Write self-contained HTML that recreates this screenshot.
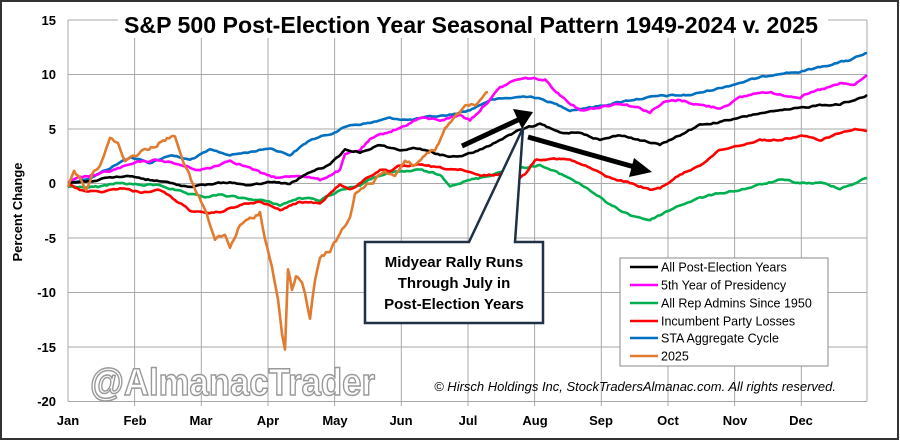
<!DOCTYPE html>
<html><head><meta charset="utf-8"><style>
html,body{margin:0;padding:0;background:#fff}
svg{display:block}
text{font-family:"Liberation Sans",sans-serif}
</style></head><body>
<svg id="s" width="900" height="441" viewBox="0 0 900 441" xmlns="http://www.w3.org/2000/svg">
<rect x="0" y="0" width="900" height="441" fill="#fff"/>
<rect x="1" y="1" width="897" height="438" fill="none" stroke="#333" stroke-width="2"/>
<g stroke="#a8a8a8" stroke-width="1" fill="none">
<line x1="68" y1="20" x2="867" y2="20"/>
<line x1="68" y1="74.5" x2="867" y2="74.5"/>
<line x1="68" y1="129" x2="867" y2="129"/>
<line x1="68" y1="183.5" x2="867" y2="183.5"/>
<line x1="68" y1="238" x2="867" y2="238"/>
<line x1="68" y1="292.5" x2="867" y2="292.5"/>
<line x1="68" y1="347" x2="867" y2="347"/>
<line x1="68" y1="401.5" x2="867" y2="401.5"/>
<line x1="68" y1="20" x2="68" y2="401.5"/>
<line x1="134.6" y1="20" x2="134.6" y2="406"/>
<line x1="201.3" y1="20" x2="201.3" y2="406"/>
<line x1="268" y1="20" x2="268" y2="406"/>
<line x1="334.6" y1="20" x2="334.6" y2="406"/>
<line x1="401.3" y1="20" x2="401.3" y2="406"/>
<line x1="468" y1="20" x2="468" y2="406"/>
<line x1="534.6" y1="20" x2="534.6" y2="406"/>
<line x1="601.3" y1="20" x2="601.3" y2="406"/>
<line x1="668" y1="20" x2="668" y2="406"/>
<line x1="734.6" y1="20" x2="734.6" y2="406"/>
<line x1="801.3" y1="20" x2="801.3" y2="406"/>
<line x1="867" y1="20" x2="867" y2="401.5"/>
</g>
<rect x="118" y="6" width="710" height="32" fill="#fff"/>
<text x="471" y="33" text-anchor="middle" font-size="23" font-weight="bold" fill="#000" textLength="694" lengthAdjust="spacingAndGlyphs">S&amp;P 500 Post-Election Year Seasonal Pattern 1949-2024 v. 2025</text>
<g font-size="13" font-weight="bold" fill="#000" text-anchor="end">
<text x="56" y="25">15</text><text x="56" y="79">10</text><text x="56" y="134">5</text><text x="56" y="188">0</text><text x="56" y="243">-5</text><text x="56" y="297">-10</text><text x="56" y="352">-15</text><text x="56" y="406">-20</text>
</g>
<g font-size="13" font-weight="bold" fill="#000" text-anchor="middle">
<text x="68" y="425">Jan</text><text x="135" y="425">Feb</text><text x="201" y="425">Mar</text><text x="268" y="425">Apr</text><text x="335" y="425">May</text><text x="401" y="425">Jun</text><text x="468" y="425">Jul</text><text x="535" y="425">Aug</text><text x="601" y="425">Sep</text><text x="668" y="425">Oct</text><text x="735" y="425">Nov</text><text x="801" y="425">Dec</text>
</g>
<text transform="translate(22,212) rotate(-90)" text-anchor="middle" font-size="13" font-weight="bold">Percent Change</text>
<text x="90" y="395" font-size="38" font-weight="bold" fill="#fff" stroke="#999" stroke-width="1.5" textLength="285" lengthAdjust="spacingAndGlyphs" style="font-family:'Liberation Sans Narrow','Liberation Sans',sans-serif">@AlmanacTrader</text>
<text x="836" y="391" text-anchor="end" font-size="13" font-style="italic">© Hirsch Holdings Inc, StockTradersAlmanac.com. All rights reserved.</text>
<g fill="none" stroke-width="2.6" stroke-linejoin="round">
<polyline class="j" data-a="1.3" stroke="#0070c0" points="68,183 90,178 110,168 130,157 150,163 170,155 190,160 210,150 230,155 250,152 270,148 290,155 310,140 330,134 350,125 370,123 390,118 410,120 430,117 450,115 470,110 490,100 510,98 530,96 550,102 570,110 600,106 630,100 660,96 690,95 720,88 750,80 780,73 800,72 820,67 850,60 867,53"/>
<polyline class="j" data-a="1.8" stroke="#ff00ff" points="68,183 80,178 100,174 120,168 140,162 160,160 180,165 200,170 210,168 230,160 250,168 265,175 280,178 300,175 320,180 340,170 345,155 360,150 370,140 385,133 400,128 420,118 440,120 460,115 470,120 480,110 500,88 515,80 530,78 545,80 560,95 580,110 600,107 620,103 640,108 650,112 665,102 680,100 700,105 720,108 740,98 760,92 780,94 800,97 820,90 840,84 855,85 867,75"/>
<polyline class="j" data-a="1.5" stroke="#00b050" points="68,187 80,187 100,187 120,183 140,185 160,185 175,190 190,195 205,197 220,195 240,198 260,200 280,205 300,198 320,200 340,190 360,185 380,175 400,172 420,170 440,175 450,185 470,180 480,178 500,172 520,168 540,165 555,172 570,178 590,190 610,205 630,215 650,220 660,215 680,205 700,198 720,193 740,190 760,185 780,180 800,183 820,183 840,188 850,185 867,178"/>
<polyline class="j" data-a="1.5" stroke="#ff0000" points="68,183 80,190 100,192 120,188 140,192 160,190 175,200 190,210 205,214 220,212 240,205 260,202 280,210 300,202 320,203 340,184 350,190 370,176 380,170 390,172 400,166 420,165 440,168 460,170 480,176 500,174 510,178 520,178 525,174 535,160 550,158 570,160 590,168 610,178 630,183 650,190 660,188 680,175 700,165 720,150 740,145 760,140 780,140 800,136 820,140 840,133 855,128 867,131"/>
<polyline class="j" data-a="1.3" stroke="#000" points="68,183 90,181 110,178 130,176 150,180 170,183 190,187 205,185 230,182 250,186 270,182 290,184 310,172 330,165 345,150 360,152 380,145 400,150 420,148 440,155 460,157 480,150 500,140 520,130 540,124 560,133 580,132 600,140 620,135 640,140 660,145 680,135 700,125 720,122 740,118 760,113 780,111 800,108 820,105 840,104 855,100 867,95"/>
<polyline class="j" data-a="3.5" stroke="#e07b30" points="68,187 74,170 80,178 86,190 92,175 100,165 110,140 118,142 125,160 135,155 145,150 155,145 165,140 175,135 180,150 185,165 195,190 205,210 215,240 225,235 230,248 240,225 250,220 260,212 265,240 272,265 278,300 282,335 285,350 288,268 292,290 296,275 302,285 305,295 310,318 315,280 320,258 330,250 340,235 350,218 355,195 365,185 375,180 385,170 395,175 405,160 415,165 425,155 435,150 445,130 455,118 465,108 475,105 482,100 488,92"/>
</g>
<g stroke="#000" stroke-width="5" fill="#000">
<line x1="462" y1="146" x2="520" y2="119"/>
<polygon points="533,112 513,109 522,129" stroke="none"/>
<line x1="528" y1="137" x2="638" y2="168"/>
<polygon points="652,172 634,158 629,177" stroke="none"/>
</g>
<path d="M365,242 L469,242 L523,128 L515,242 L543,242 L543,323 L365,323 Z" fill="#fff" stroke="#1f3047" stroke-width="2.5" stroke-linejoin="miter"/>
<g font-size="15" font-weight="bold" text-anchor="middle" fill="#000">
<text x="454" y="267">Midyear Rally Runs</text>
<text x="454" y="288">Through July in</text>
<text x="454" y="309">Post-Election Years</text>
</g>
<rect x="620" y="258" width="208" height="108" fill="#fff" stroke="#888" stroke-width="1"/>
<g stroke-width="2.6">
<line x1="630" y1="267" x2="658" y2="267" stroke="#000"/>
<line x1="630" y1="285" x2="658" y2="285" stroke="#ff00ff"/>
<line x1="630" y1="303" x2="658" y2="303" stroke="#00b050"/>
<line x1="630" y1="321" x2="658" y2="321" stroke="#ff0000"/>
<line x1="630" y1="338" x2="658" y2="338" stroke="#0070c0"/>
<line x1="630" y1="356" x2="658" y2="356" stroke="#e07b30"/>
</g>
<g font-size="12.5" fill="#000">
<text x="661" y="271.5">All Post-Election Years</text>
<text x="661" y="289.5">5th Year of Presidency</text>
<text x="661" y="307.5">All Rep Admins Since 1950</text>
<text x="661" y="325.5">Incumbent Party Losses</text>
<text x="661" y="342.5">STA Aggregate Cycle</text>
<text x="661" y="360.5">2025</text>
</g>
</svg>
<script>
(function(){
var seed=12345;function r(){seed=(seed*1103515245+12345)%2147483648;return seed/2147483648-0.5;}
var ls=document.querySelectorAll('polyline.j');
for(var k=0;k<ls.length;k++){
 var p=ls[k],a=parseFloat(p.getAttribute('data-a'));
 var pts=p.getAttribute('points').trim().split(/\s+/).map(function(s){return s.split(',').map(Number);});
 var out=[],w=0;
 for(var i=0;i<pts.length-1;i++){
  var x0=pts[i][0],y0=pts[i][1],x1=pts[i+1][0],y1=pts[i+1][1];
  var n=Math.max(1,Math.round((x1-x0)/2.2));
  for(var j=0;j<n;j++){var t=j/n;w=w*0.6+r()*a;
   var yy=y0+(y1-y0)*t+(i==0&&j==0?0:w);out.push((x0+(x1-x0)*t).toFixed(1)+','+yy.toFixed(1));}
 }
 out.push(pts[pts.length-1].join(','));
 p.setAttribute('points',out.join(' '));
}
})();
</script>
</body></html>
